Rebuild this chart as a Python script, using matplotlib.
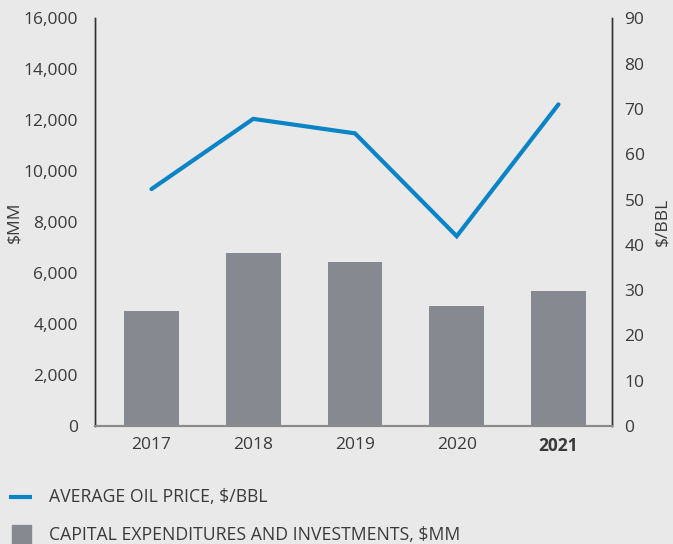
import matplotlib
matplotlib.use('Agg')
import matplotlib.pyplot as plt
from matplotlib.lines import Line2D
from matplotlib.patches import Rectangle

# data
years = ['2017', '2018', '2019', '2020', '2021']
capex = [4510, 6780, 6430, 4710, 5290]        # $MM
oil_price = [52.3, 67.8, 64.6, 41.9, 71.0]    # $/BBL

bg = '#e9e9e9'
bar_color = '#86898f'
line_color = '#0a84c6'
text_color = '#3a3a3a'
fs = 12.5

plt.rcParams['font.family'] = ['Open Sans', 'DejaVu Sans']

fig = plt.figure(figsize=(6.73, 5.44), dpi=100, facecolor=bg)
ax = fig.add_axes([94.5 / 673, 1 - 426 / 544, (612 - 94.5) / 673, (426 - 18.3) / 544])
ax.set_facecolor(bg)

x = range(len(years))
ax.bar(x, capex, width=0.54, color=bar_color, zorder=2)
ax.set_ylim(0, 16000)
ax.set_xlim(-0.56, 4.526)
ax.set_yticks(range(0, 16001, 2000))
ax.set_yticklabels([f'{v:,}' for v in range(0, 16001, 2000)])
ax.set_xticks(list(x))
ax.set_xticklabels(years)
for lbl in ax.get_xticklabels():
    if lbl.get_text() == '2021':
        lbl.set_fontweight('bold')
        lbl.set_color('black')
ax.tick_params(axis='both', length=0, labelsize=fs, colors=text_color)
ax.tick_params(axis='y', pad=12)
ax.tick_params(axis='x', pad=8)
ax.set_ylabel('$MM', fontsize=fs, color=text_color, labelpad=1)

ax2 = ax.twinx()
ax2.plot(list(x), oil_price, color=line_color, lw=3, solid_capstyle='round',
         solid_joinstyle='miter', zorder=3)
ax2.set_ylim(0, 90)
ax2.set_yticks(range(0, 91, 10))
ax2.tick_params(axis='y', length=0, labelsize=fs, colors=text_color, pad=9)
ax2.set_ylabel('$/BBL', fontsize=fs, color=text_color, labelpad=7)

for a in (ax, ax2):
    a.spines['top'].set_visible(False)
    a.spines['left'].set_color('#333333')
    a.spines['right'].set_color('#333333')
    a.spines['bottom'].set_color('#8a8a8a')
    a.spines['bottom'].set_linewidth(1.5)
    a.spines['left'].set_linewidth(1)
    a.spines['right'].set_linewidth(1)

# legend drawn below the chart
fig.add_artist(Line2D([9 / 673, 32 / 673], [1 - 496.7 / 544] * 2, color=line_color, lw=3,
                      solid_capstyle='butt'))
fig.text(49 / 673, 1 - 496.7 / 544, 'AVERAGE OIL PRICE, $/BBL', fontsize=12.7,
         color=text_color, va='center', ha='left')
fig.add_artist(Rectangle((12 / 673, 0), 19 / 673, 19 / 544, color=bar_color,
                         transform=fig.transFigure))
fig.text(49 / 673, 1 - 534.5 / 544, 'CAPITAL EXPENDITURES AND INVESTMENTS, $MM', fontsize=12.7,
         color=text_color, va='center', ha='left')

fig.savefig('out.png', dpi=100, facecolor=bg)
